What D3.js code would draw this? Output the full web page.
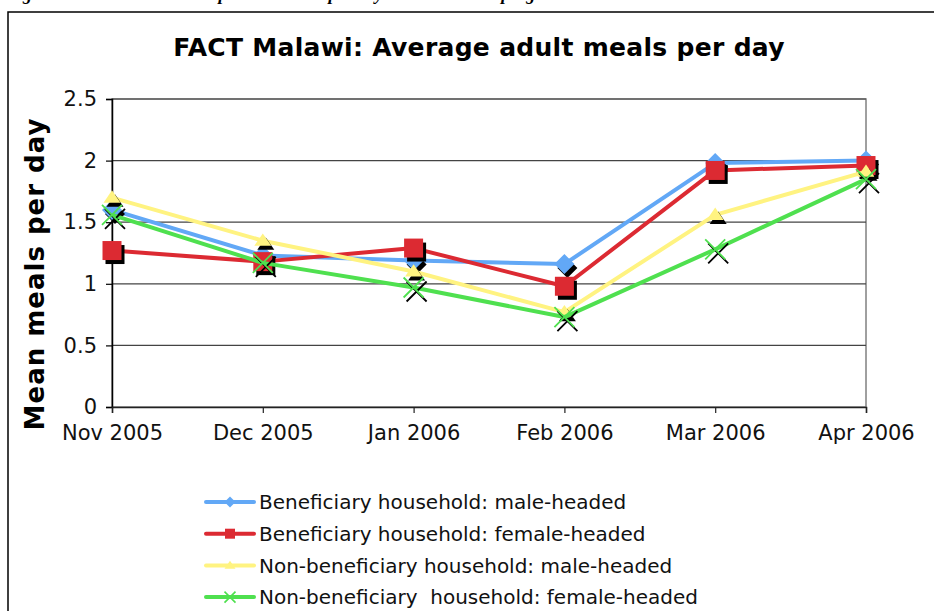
<!DOCTYPE html>
<html><head><meta charset="utf-8">
<script src="https://cdn.jsdelivr.net/npm/d3@7"></script>
<style>html,body{margin:0;padding:0;background:#fff;}svg{display:block;}</style>
</head><body>
<svg id="c" width="934" height="611"></svg>
<script>
const months = ["Nov 2005","Dec 2005","Jan 2006","Feb 2006","Mar 2006","Apr 2006"];
const benMale = [1.60, 1.23, 1.19, 1.16, 1.98, 2.00];
const benFemale = [1.27, 1.18, 1.29, 0.98, 1.92, 1.96];
const nonMale = [1.70, 1.35, 1.10, 0.77, 1.56, 1.91];
const nonFemale = [1.56, 1.17, 0.97, 0.73, 1.28, 1.85];
const seriesNames = ["Beneficiary household: male-headed","Beneficiary household: female-headed","Non-beneficiary household: male-headed","Non-beneficiary  household: female-headed"];
const yTicks = [0, 0.5, 1, 1.5, 2, 2.5];
const titleText = "FACT Malawi: Average adult meals per day";
const yLabel = "Mean meals per day";
const captionText = "Figure 7: Mean adult meals per household per day over the FACT programme";

const series = [
  {name: seriesNames[0], values: benMale, color: "#62a8f6", marker: "diamond"},
  {name: seriesNames[1], values: benFemale, color: "#dc2a32", marker: "square"},
  {name: seriesNames[2], values: nonMale, color: "#fff381", marker: "triangle"},
  {name: seriesNames[3], values: nonFemale, color: "#4fe04f", marker: "x"}
];

const svg = d3.select("#c");
const M = {left:112, right:866, top:99, bottom:407};
const x = d3.scalePoint().domain(months).range([M.left, M.right]).padding(0);
const y = d3.scaleLinear().domain([0, 2.5]).range([M.bottom, M.top]);

// caption (cut off at top, as in the source)
svg.append("text").attr("x", 6).attr("y", 0)
  .attr("font-family","Liberation Serif").attr("font-weight","bold").attr("font-style","italic")
  .attr("font-size", 18).attr("fill","#000").text(captionText);

// outer frame
svg.append("rect").attr("x", 8).attr("y", 12).attr("width", 940).attr("height", 620)
  .attr("fill","none").attr("stroke","#000").attr("stroke-width",1.5);

// title
svg.append("text").attr("x", 479).attr("y", 56).attr("text-anchor","middle")
  .attr("font-family","DejaVu Sans").attr("font-weight","bold").attr("font-size", 25)
  .attr("letter-spacing", 0.3)
  .attr("fill","#000").text(titleText);

// plot border
svg.append("rect").attr("x", M.left).attr("y", M.top).attr("width", M.right-M.left).attr("height", M.bottom-M.top)
  .attr("fill","none").attr("stroke","#808080").attr("stroke-width",1.5);

// gridlines
svg.append("g").selectAll("line").data(yTicks.filter(d=>d>0)).join("line")
  .attr("x1", M.left).attr("x2", M.right).attr("y1", d=>y(d)).attr("y2", d=>y(d))
  .attr("stroke","#444").attr("stroke-width",1.2);

// y axis
const yAxis = svg.append("g").attr("transform",`translate(${M.left},0)`)
  .call(d3.axisLeft(y).tickValues(yTicks).tickSize(6).tickPadding(9).tickFormat(d=>String(d)));
yAxis.select(".domain").attr("stroke","#000").attr("stroke-width",1.5);
yAxis.selectAll(".tick line").attr("stroke","#000").attr("stroke-width",1.2);
yAxis.selectAll("text").attr("font-family","DejaVu Sans").attr("font-size",21).attr("fill","#111");

// x axis
const xAxis = svg.append("g").attr("transform",`translate(0,${M.bottom})`)
  .call(d3.axisBottom(x).tickSize(6).tickPadding(12));
xAxis.select(".domain").attr("stroke","#222").attr("stroke-width",1.5);
xAxis.selectAll(".tick line").attr("stroke","#222").attr("stroke-width",1.2);
xAxis.selectAll("text").attr("font-family","DejaVu Sans").attr("font-size",21).attr("fill","#111");

// y label
svg.append("text").attr("transform","translate(44,274) rotate(-90)").attr("text-anchor","middle")
  .attr("font-family","DejaVu Sans").attr("font-weight","bold").attr("font-size",26)
  .attr("letter-spacing", 1)
  .attr("fill","#000").text(yLabel);

function markerPath(type, s){
  const h = s/2;
  if(type==="diamond") return `M0,${-h}L${h},0L0,${h}L${-h},0Z`;
  if(type==="square") return `M${-h},${-h}H${h}V${h}H${-h}Z`;
  if(type==="triangle") return `M0,${-h*0.85}L${h},${h*0.6}L${-h},${h*0.6}Z`;
  return `M${-h},${-h}L${h},${h}M${h},${-h}L${-h},${h}`;
}
const mSize = {diamond:20, square:19, triangle:17, x:20};
const line = d3.line().x((d,i)=>x(months[i])).y(d=>y(d));

series.forEach(s=>{
  const g = svg.append("g");
  g.append("path").attr("d", line(s.values)).attr("fill","none")
    .attr("stroke", s.color).attr("stroke-width",4).attr("stroke-linejoin","round");
  g.selectAll("path.sh").data(s.values).join("path").attr("class","sh")
    .attr("transform",(d,i)=>`translate(${x(months[i])+3},${y(d)+4})`)
    .attr("d", markerPath(s.marker, mSize[s.marker]))
    .attr("fill", s.marker==="x" ? "none" : "#000")
    .attr("stroke", s.marker==="x" ? "#000" : "none").attr("stroke-width",1.8);
  g.selectAll("path.mk").data(s.values).join("path").attr("class","mk")
    .attr("transform",(d,i)=>`translate(${x(months[i])},${y(d)})`)
    .attr("d", markerPath(s.marker, mSize[s.marker]))
    .attr("fill", s.marker==="x" ? "none" : s.color)
    .attr("stroke", s.marker==="x" ? s.color : "none").attr("stroke-width",1.8);
});

// legend
const legY0 = 502, legDy = 31.7;
const leg = svg.append("g");
series.forEach((s,i)=>{
  const yy = legY0 + i*legDy;
  leg.append("line").attr("x1",206).attr("x2",254).attr("y1",yy).attr("y2",yy)
    .attr("stroke",s.color).attr("stroke-width",4).attr("stroke-linecap","round");
  const lm = {diamond:11, square:10, triangle:11, x:11};
  leg.append("path").attr("transform",`translate(230,${yy})`)
    .attr("d", markerPath(s.marker, lm[s.marker]))
    .attr("fill", s.marker==="x" ? "none" : s.color)
    .attr("stroke", s.marker==="x" ? s.color : "none").attr("stroke-width",1.6);
  leg.append("text").attr("x",259).attr("y",yy).attr("dy","0.36em")
    .attr("font-family","DejaVu Sans").attr("font-size",20).attr("fill","#111")
    .attr("xml:space","preserve").style("white-space","pre").text(s.name);
});
</script>
</body></html>
